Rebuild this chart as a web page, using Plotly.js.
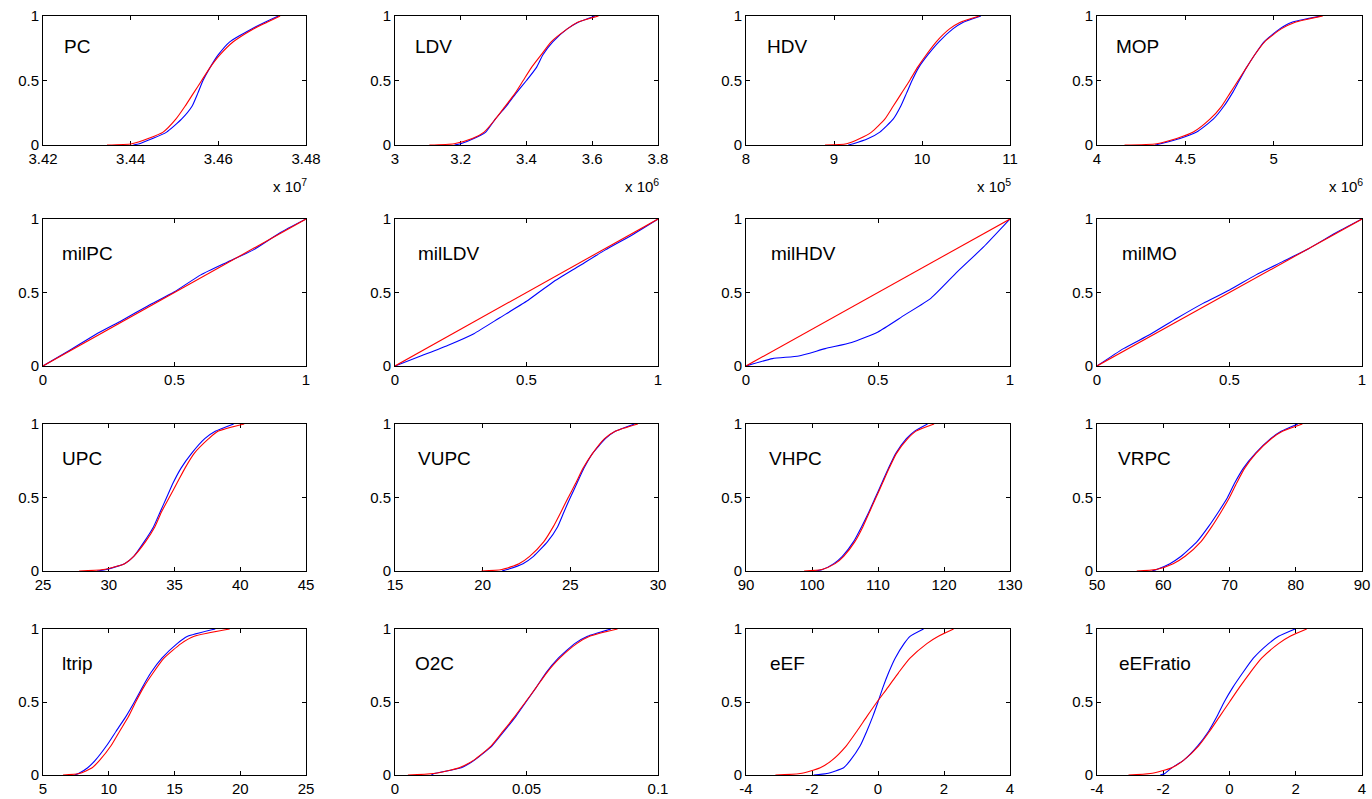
<!DOCTYPE html>
<html>
<head>
<meta charset="utf-8">
<script src="https://cdn.plot.ly/plotly-3.0.1.min.js"></script>
<style>
  html, body { margin: 0; padding: 0; background: #ffffff; }
  #chart { width: 1372px; height: 799px; }
</style>
</head>
<body>
<div id="chart"></div>
<script>
// ---------- data ----------
// CDF levels at which the x-quantiles of each curve were read
const cdfLevels = [0, 0.01, 0.05, 0.1, 0.2, 0.3, 0.4, 0.5, 0.6, 0.7, 0.8, 0.9, 0.95, 1];
// x grid for the "mil" panels (values on [0,1])
const milGrid = [0, 0.1, 0.2, 0.3, 0.4, 0.5, 0.6, 0.7, 0.8, 0.9, 1];
const diagX = [0, 1];
const diagY = [0, 1];

// Row 1 (x values shown in units of 10^n)
const pcRed   = [3.4346, 3.4403, 3.4440, 3.4474, 3.4503, 3.4524, 3.4543, 3.4562, 3.4581, 3.4604, 3.4634, 3.4680, 3.4710, 3.4741];
const pcBlue  = [3.4406, 3.4420, 3.4450, 3.4482, 3.4516, 3.4540, 3.4553, 3.4565, 3.4581, 3.4600, 3.4626, 3.4676, 3.4705, 3.4737];
const ldvRed  = [3.1045, 3.180, 3.235, 3.271, 3.305, 3.335, 3.365, 3.390, 3.415, 3.445, 3.475, 3.524, 3.554, 3.619];
const ldvBlue = [3.181, 3.200, 3.240, 3.276, 3.305, 3.338, 3.368, 3.400, 3.430, 3.450, 3.480, 3.524, 3.556, 3.609];
const hdvRed  = [8.898, 9.143, 9.294, 9.426, 9.577, 9.672, 9.766, 9.860, 9.947, 10.049, 10.162, 10.313, 10.43, 10.653];
const hdvBlue = [9.162, 9.22, 9.389, 9.521, 9.672, 9.758, 9.823, 9.887, 9.962, 10.068, 10.192, 10.351, 10.464, 10.67];
const mopRed  = [4.156, 4.338, 4.451, 4.545, 4.639, 4.705, 4.752, 4.799, 4.846, 4.893, 4.949, 5.043, 5.118, 5.278];
const mopBlue = [4.329, 4.36, 4.47, 4.564, 4.658, 4.718, 4.765, 4.805, 4.846, 4.893, 4.945, 5.034, 5.10, 5.269];

// Row 2 (empirical CDF values on milGrid; theoretical is the diagonal)
const milPCBlue  = [0, 0.105, 0.215, 0.31, 0.41, 0.505, 0.62, 0.706, 0.79, 0.905, 1];
const milLDVBlue = [0, 0.07, 0.14, 0.22, 0.33, 0.44, 0.57, 0.68, 0.79, 0.89, 1];
const milHDVBlue = [0, 0.05, 0.068, 0.118, 0.16, 0.232, 0.346, 0.46, 0.64, 0.81, 1];
const milMOBlue  = [0, 0.118, 0.214, 0.323, 0.426, 0.517, 0.62, 0.71, 0.80, 0.905, 1];

// Row 3
const upcRed   = [27.75, 29.57, 31.2, 31.9, 32.8, 33.5, 34.0, 34.6, 35.2, 35.8, 36.5, 37.6, 38.3, 40.3];
const upcBlue  = [29.1, 29.8, 31.2, 31.9, 32.7, 33.4, 33.9, 34.4, 34.9, 35.5, 36.3, 37.3, 38.1, 39.5];
const vupcRed  = [19.93, 21.1, 22.07, 22.68, 23.49, 24.02, 24.46, 24.88, 25.32, 25.73, 26.27, 26.95, 27.56, 28.85];
const vupcBlue = [21.1, 21.4, 22.3, 22.9, 23.7, 24.27, 24.63, 25.0, 25.39, 25.78, 26.27, 27.0, 27.56, 28.66];
const vhpcRed  = [98.8, 101.5, 103.5, 104.8, 106.5, 107.7, 108.7, 109.7, 110.7, 111.7, 112.8, 114.5, 115.7, 118.5];
const vhpcBlue = [100.5, 101.6, 103.3, 104.6, 106.3, 107.5, 108.6, 109.6, 110.6, 111.6, 112.7, 114.3, 115.5, 117.5];
const vrpcRed  = [56.0, 58.9, 61.5, 63.3, 65.7, 67.3, 68.7, 70.0, 71.1, 72.3, 74.0, 76.3, 78.0, 81.0];
const vrpcBlue = [58.3, 59.0, 61.0, 62.7, 65.1, 66.8, 68.3, 69.7, 70.8, 72.1, 73.9, 76.2, 77.8, 80.3];

// Row 4
const ltripRed  = [6.52, 7.75, 8.74, 9.3, 10.17, 10.83, 11.5, 12.05, 12.65, 13.38, 14.2, 15.5, 16.5, 19.2];
const ltripBlue = [7.4, 7.7, 8.4, 8.97, 9.83, 10.56, 11.3, 11.95, 12.55, 13.2, 14.04, 15.2, 16.0, 18.1];
const o2cRed    = [0.0049, 0.0146, 0.0244, 0.0298, 0.0366, 0.0411, 0.0455, 0.0496, 0.0537, 0.0577, 0.0626, 0.0691, 0.074, 0.0846];
const o2cBlue   = [0.0138, 0.0150, 0.0252, 0.0301, 0.0369, 0.0415, 0.0459, 0.0498, 0.0537, 0.0574, 0.0621, 0.0683, 0.0732, 0.0821];
const eefRed    = [-3.11, -2.36, -1.75, -1.40, -0.96, -0.64, -0.34, -0.03, 0.30, 0.62, 0.97, 1.48, 1.83, 2.29];
const eefBlue   = [-1.95, -1.55, -1.04, -0.84, -0.54, -0.34, -0.16, 0.0, 0.15, 0.32, 0.52, 0.79, 0.97, 1.38];
const eefrRed   = [-3.05, -2.39, -1.74, -1.39, -0.93, -0.60, -0.30, 0.0, 0.30, 0.62, 0.97, 1.48, 1.83, 2.33];
const eefrBlue  = [-2.09, -1.95, -1.74, -1.39, -0.96, -0.63, -0.38, -0.16, 0.10, 0.40, 0.72, 1.18, 1.48, 1.98];

// panel names
const panelNames = ['PC', 'LDV', 'HDV', 'MOP',
                    'milPC', 'milLDV', 'milHDV', 'milMO',
                    'UPC', 'VUPC', 'VHPC', 'VRPC',
                    'ltrip', 'O2C', 'eEF', 'eEFratio'];

// x tick values / labels
const xTickVals = [
  [3.42, 3.44, 3.46, 3.48], [3, 3.2, 3.4, 3.6, 3.8], [8, 9, 10, 11], [4, 4.5, 5, 5.5],
  [0, 0.5, 1], [0, 0.5, 1], [0, 0.5, 1], [0, 0.5, 1],
  [25, 30, 35, 40, 45], [15, 20, 25, 30], [90, 100, 110, 120, 130], [50, 60, 70, 80, 90],
  [5, 10, 15, 20, 25], [0, 0.05, 0.1], [-4, -2, 0, 2, 4], [-4, -2, 0, 2, 4]
];
const xTickText = [
  ['3.42', '3.44', '3.46', '3.48'], ['3', '3.2', '3.4', '3.6', '3.8'], ['8', '9', '10', '11'], ['4', '4.5', '5', '5.5'],
  ['0', '0.5', '1'], ['0', '0.5', '1'], ['0', '0.5', '1'], ['0', '0.5', '1'],
  ['25', '30', '35', '40', '45'], ['15', '20', '25', '30'], ['90', '100', '110', '120', '130'], ['50', '60', '70', '80', '90'],
  ['5', '10', '15', '20', '25'], ['0', '0.05', '0.1'], ['-4', '-2', '0', '2', '4'], ['-4', '-2', '0', '2', '4']
];
const yTickVals = [0, 0.5, 1];
const yTickText = ['0', '0.5', '1'];
const rowOneExponents = ['7', '6', '5', '6'];

// ---------- build ----------
const W = 1372, H = 799;
const colLeft  = [43, 395, 746, 1097];
const colRight = [306, 658, 1010, 1362];
const rowTop    = [16, 219, 424, 629];
const rowBottom = [145, 366, 571, 775];
const labelX = [0.072, 0.068, 0.072, 0.065,
                0.065, 0.080, 0.087, 0.087,
                0.065, 0.080, 0.080, 0.072,
                0.065, 0.068, 0.084, 0.076];
const labelY = 0.765;
const FONT = '"Liberation Sans", Arial, sans-serif';

const quantileSeries = {
  0: [pcRed, pcBlue], 1: [ldvRed, ldvBlue], 2: [hdvRed, hdvBlue], 3: [mopRed, mopBlue],
  8: [upcRed, upcBlue], 9: [vupcRed, vupcBlue], 10: [vhpcRed, vhpcBlue], 11: [vrpcRed, vrpcBlue],
  12: [ltripRed, ltripBlue], 13: [o2cRed, o2cBlue], 14: [eefRed, eefBlue], 15: [eefrRed, eefrBlue]
};
const milSeries = {4: milPCBlue, 5: milLDVBlue, 6: milHDVBlue, 7: milMOBlue};

const traces = [];
const layout = {
  width: W, height: H,
  margin: {l: 0, r: 0, t: 0, b: 0},
  paper_bgcolor: '#ffffff', plot_bgcolor: '#ffffff',
  showlegend: false,
  font: {family: FONT, size: 15, color: '#000000'},
  annotations: []
};

for (let i = 0; i < 16; i++) {
  const r = Math.floor(i / 4), c = i % 4;
  const n = i === 0 ? '' : String(i + 1);
  const xa = 'x' + n, ya = 'y' + n;

  let blue, red;
  if (milSeries[i]) {
    blue = {x: milGrid, y: milSeries[i]};
    red = {x: diagX, y: diagY};
  } else {
    const q = quantileSeries[i];
    red = {x: q[0], y: cdfLevels};
    blue = {x: q[1], y: cdfLevels};
  }
  traces.push({type: 'scatter', mode: 'lines', x: blue.x, y: blue.y, xaxis: xa, yaxis: ya,
               line: {color: '#0000ff', width: 1.1, shape: 'spline', smoothing: 0.5}, hoverinfo: 'skip'});
  traces.push({type: 'scatter', mode: 'lines', x: red.x, y: red.y, xaxis: xa, yaxis: ya,
               line: {color: '#ff0000', width: 1.1, shape: milSeries[i] ? 'linear' : 'spline', smoothing: 0.6},
               hoverinfo: 'skip'});

  const tv = xTickVals[i];
  const axisCommon = {
    showline: true, linecolor: '#000000', linewidth: 1, mirror: 'ticks',
    ticks: 'inside', ticklen: 4, tickwidth: 1, tickcolor: '#000000',
    showgrid: false, zeroline: false, fixedrange: true,
    tickfont: {family: FONT, size: 15, color: '#000000'},
    layer: 'below traces'
  };
  layout['xaxis' + n] = Object.assign({}, axisCommon, {
    domain: [colLeft[c] / W, colRight[c] / W],
    range: [tv[0], tv[tv.length - 1]],
    tickmode: 'array', tickvals: tv, ticktext: xTickText[i],
    anchor: ya
  });
  layout['yaxis' + n] = Object.assign({}, axisCommon, {
    domain: [1 - rowBottom[r] / H, 1 - rowTop[r] / H],
    range: [0, 1],
    tickmode: 'array', tickvals: yTickVals, ticktext: yTickText,
    anchor: xa
  });

  layout.annotations.push({
    text: panelNames[i], showarrow: false,
    xref: xa + ' domain', yref: ya + ' domain',
    x: labelX[i], y: labelY, xanchor: 'left', yanchor: 'middle',
    font: {family: FONT, size: 19, color: '#000000'}
  });
  if (r === 0) {
    layout.annotations.push({
      text: 'x 10<sup>' + rowOneExponents[c] + '</sup>', showarrow: false,
      xref: 'paper', yref: 'paper',
      x: (colRight[c] + 3) / W, y: 1 - 186 / H, xanchor: 'right', yanchor: 'middle',
      font: {family: FONT, size: 15, color: '#000000'}
    });
  }
}

Plotly.newPlot('chart', traces, layout, {displayModeBar: false, staticPlot: true});
</script>
</body>
</html>
